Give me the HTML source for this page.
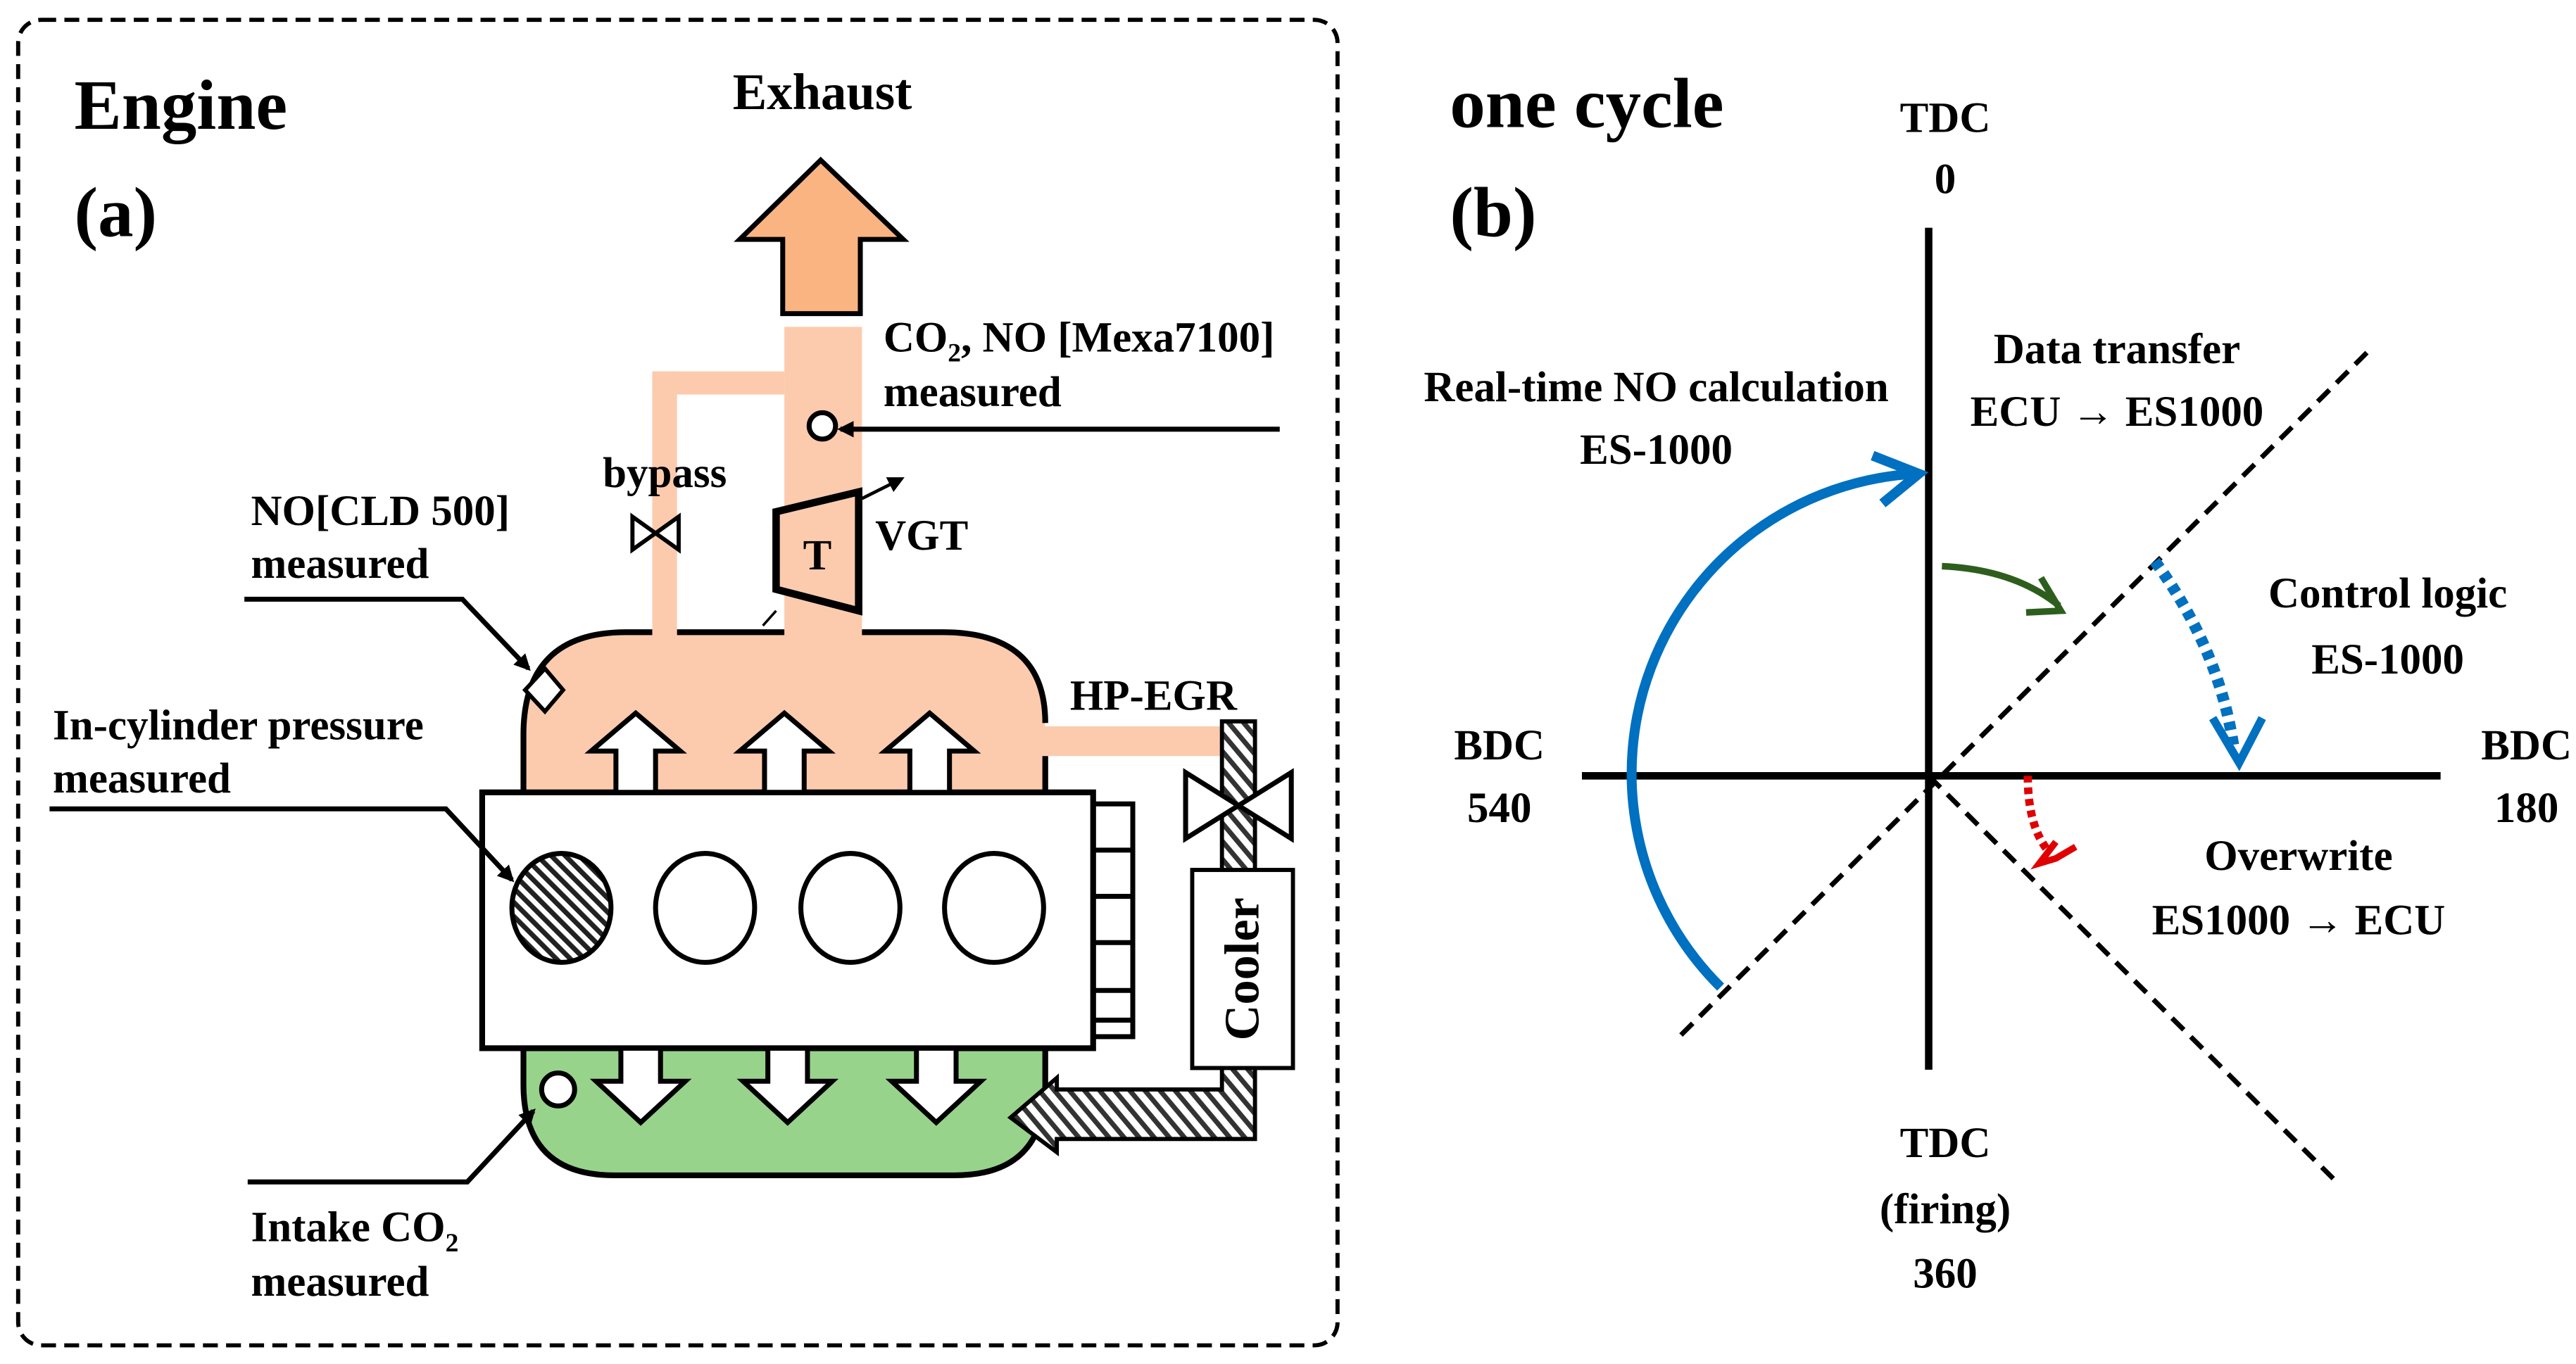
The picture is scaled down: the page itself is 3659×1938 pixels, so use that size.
<!DOCTYPE html>
<html><head><meta charset="utf-8"><style>
html,body{margin:0;padding:0;background:#fff}
svg{display:block}
text{font-family:"Liberation Serif","DejaVu Serif",serif;font-weight:bold;fill:#000}
</style></head><body>
<svg width="3659" height="1938" viewBox="0 0 1560 826.3" preserveAspectRatio="none" xmlns="http://www.w3.org/2000/svg">
<defs>
<pattern id="h" width="7" height="7" patternUnits="userSpaceOnUse" patternTransform="rotate(-40)">
<rect width="7" height="7" fill="#fff"/><rect width="3" height="7" fill="#333"/></pattern>
<pattern id="h2" width="6" height="6" patternUnits="userSpaceOnUse" patternTransform="rotate(-45)">
<rect width="6" height="6" fill="#fff"/><rect width="3" height="6" fill="#222"/></pattern>
<marker id="ab" markerWidth="10" markerHeight="10" refX="8" refY="5" orient="auto" markerUnits="userSpaceOnUse"><path d="M0,0 L10,5 L0,10 z" fill="#000"/></marker>
</defs>
<rect x="11" y="12" width="799" height="803" rx="14" fill="none" stroke="#000" stroke-width="2.5" stroke-dasharray="9,5"/>
<text x="45" y="78" font-size="43">Engine</text>
<text x="45" y="143" font-size="43">(a)</text>
<text x="498" y="66" font-size="31" text-anchor="middle">Exhaust</text>
<path d="M497,97 L448,145 L474,145 L474,190 L521,190 L521,145 L547,145 Z" fill="#F9B482" stroke="#000" stroke-width="3"/>
<rect x="475" y="198" width="47" height="190" fill="#FCCBAD"/>
<rect x="395" y="225" width="80" height="14" fill="#FCCBAD"/>
<rect x="395" y="225" width="15" height="163" fill="#FCCBAD"/>
<rect x="620" y="440" width="125" height="18" fill="#FCCBAD"/>
<path d="M317,480 L317,445 Q317,383 379,383 L571,383 Q633,383 633,445 L633,480 Z" fill="#FCCBAD"/>
<path d="M317,480 L317,445 Q317,383 379,383 L395,383 M410,383 L475,383 M522,383 L571,383 Q633,383 633,438" fill="none" stroke="#000" stroke-width="3.5"/>
<line x1="633" y1="458" x2="633" y2="480" stroke="#000" stroke-width="3.5"/>
<path d="M317,635 L317,657 Q317,712 372,712 L578,712 Q633,712 633,657 L633,635 Z" fill="#98D38C" stroke="#000" stroke-width="3.5"/>
<path d="M740,437 L760,437 L760,690 L640,690 L640,698 L612,677 L640,653 L640,660 L740,660 Z" fill="url(#h)" stroke="#000" stroke-width="2.5"/>
<path d="M718,468 L750,488 L718,508 Z M782,468 L750,488 L782,508 Z" fill="#fff" stroke="#000" stroke-width="3"/>
<rect x="722" y="527" width="61" height="120" fill="#fff" stroke="#000" stroke-width="2.5"/>
<text transform="translate(762,587) rotate(-90)" font-size="30" text-anchor="middle">Cooler</text>
<text x="648" y="430" font-size="26">HP-EGR</text>
<rect x="662" y="487" width="24" height="141" fill="#fff" stroke="#000" stroke-width="3"/>
<line x1="662" y1="515" x2="686" y2="515" stroke="#000" stroke-width="3"/>
<line x1="662" y1="543" x2="686" y2="543" stroke="#000" stroke-width="3"/>
<line x1="662" y1="571" x2="686" y2="571" stroke="#000" stroke-width="3"/>
<line x1="662" y1="600" x2="686" y2="600" stroke="#000" stroke-width="3"/>
<line x1="662" y1="618" x2="686" y2="618" stroke="#000" stroke-width="3"/>
<rect x="292" y="480" width="370" height="155" fill="#fff" stroke="#000" stroke-width="3.5"/>
<ellipse cx="340" cy="550" rx="30" ry="33" fill="url(#h2)" stroke="#000" stroke-width="3"/>
<ellipse cx="427" cy="550" rx="30" ry="33" fill="#fff" stroke="#000" stroke-width="3"/>
<ellipse cx="515" cy="550" rx="30" ry="33" fill="#fff" stroke="#000" stroke-width="3"/>
<ellipse cx="602" cy="550" rx="30" ry="33" fill="#fff" stroke="#000" stroke-width="3"/>
<g fill="#fff" stroke="#000" stroke-width="3">
<path d="M385,432 L358,455 L373,455 L373,480 L397,480 L397,455 L412,455 Z"/>
<path d="M475,432 L448,455 L463,455 L463,480 L487,480 L487,455 L502,455 Z"/>
<path d="M563,432 L536,455 L551,455 L551,480 L575,480 L575,455 L590,455 Z"/>
<path d="M388,680 L361,655 L376,655 L376,635 L400,635 L400,655 L415,655 Z"/>
<path d="M477,680 L450,655 L465,655 L465,635 L489,635 L489,655 L504,655 Z"/>
<path d="M567,680 L540,655 L555,655 L555,635 L579,635 L579,655 L594,655 Z"/>
</g>
<circle cx="338" cy="660" r="10" fill="#fff" stroke="#000" stroke-width="3"/>
<path d="M470,310 L520,298 L520,370 L470,357 Z" fill="#FCCBAD" stroke="#000" stroke-width="4.5"/>
<text x="495" y="345" font-size="26" text-anchor="middle">T</text>
<line x1="522" y1="302" x2="546" y2="290" stroke="#000" stroke-width="2" marker-end="url(#ab)"/>
<text x="530" y="333" font-size="26">VGT</text>
<line x1="462" y1="379" x2="470" y2="370" stroke="#000" stroke-width="1.5"/>
<path d="M383,313 L411,333 L411,313 L383,333 Z" fill="#fff" stroke="#000" stroke-width="2.5"/>
<text x="365" y="295" font-size="26">bypass</text>
<circle cx="498" cy="258" r="8" fill="#fff" stroke="#000" stroke-width="3"/>
<line x1="775" y1="260" x2="509" y2="260" stroke="#000" stroke-width="3" marker-end="url(#ab)"/>
<text x="535" y="213" font-size="26">CO<tspan font-size="16" dy="6">2</tspan><tspan dy="-6">, NO [Mexa7100]</tspan></text>
<text x="535" y="246" font-size="26">measured</text>
<text x="152" y="318" font-size="26">NO[CLD 500]</text>
<text x="152" y="350" font-size="26">measured</text>
<polyline points="148,363 280,363 320,405" fill="none" stroke="#000" stroke-width="3" marker-end="url(#ab)"/>
<path d="M330,405 L341,418 L330,431 L318,418 Z" fill="#fff" stroke="#000" stroke-width="2.5"/>
<text x="32" y="448" font-size="26">In-cylinder pressure</text>
<text x="32" y="480" font-size="26">measured</text>
<polyline points="30,490 270,490 310,533" fill="none" stroke="#000" stroke-width="3" marker-end="url(#ab)"/>
<text x="152" y="752" font-size="26">Intake CO<tspan font-size="16" dy="6">2</tspan></text>
<text x="152" y="785" font-size="26">measured</text>
<polyline points="150,716 283,716 323,673" fill="none" stroke="#000" stroke-width="3" marker-end="url(#ab)"/>

<text x="878" y="77" font-size="43">one cycle</text>
<text x="878" y="143" font-size="43">(b)</text>
<line x1="1168" y1="138" x2="1168" y2="648" stroke="#000" stroke-width="4.5"/>
<line x1="958" y1="470" x2="1478" y2="470" stroke="#000" stroke-width="4.5"/>
<line x1="1018" y1="627" x2="1435" y2="212" stroke="#000" stroke-width="3" stroke-dasharray="10,6"/>
<line x1="1168" y1="470" x2="1413" y2="714" stroke="#000" stroke-width="3" stroke-dasharray="10,6"/>
<g font-size="26" text-anchor="middle">
<text x="1178" y="80">TDC</text><text x="1178" y="117">0</text>
<text x="908" y="460">BDC</text><text x="908" y="498">540</text>
<text x="1530" y="460">BDC</text><text x="1530" y="498">180</text>
<text x="1178" y="701">TDC</text><text x="1178" y="741">(firing)</text><text x="1178" y="780">360</text>
<text x="1003" y="243">Real-time NO calculation</text><text x="1003" y="281">ES-1000</text>
<text x="1282" y="220">Data transfer</text><text x="1282" y="258">ECU → ES1000</text>
<text x="1446" y="368">Control logic</text><text x="1446" y="408">ES-1000</text>
<text x="1392" y="527">Overwrite</text><text x="1392" y="566">ES1000 → ECU</text>
</g>
<path d="M1042,598 A182,182 0 0 1 1160,287" fill="none" stroke="#0070C0" stroke-width="6"/>
<polyline points="1134,276 1162,287 1140,305" fill="none" stroke="#0070C0" stroke-width="6"/>
<path d="M1176,343 Q1220,345 1247,367" fill="none" stroke="#2E5E1E" stroke-width="4"/>
<polyline points="1236,350 1248,370 1227,371" fill="none" stroke="#2E5E1E" stroke-width="4"/>
<path d="M1305,340 Q1345,395 1353,455" fill="none" stroke="#0070C0" stroke-width="7" stroke-dasharray="5,4"/>
<polyline points="1340,435 1356,462 1370,435" fill="none" stroke="#0070C0" stroke-width="5"/>
<path d="M1228,470 Q1228,500 1240,515" fill="none" stroke="#E00000" stroke-width="5" stroke-dasharray="4,3"/>
<polyline points="1245,510 1235,523 1245,520 1257,513" fill="none" stroke="#E00000" stroke-width="4"/>
</svg>
</body></html>
